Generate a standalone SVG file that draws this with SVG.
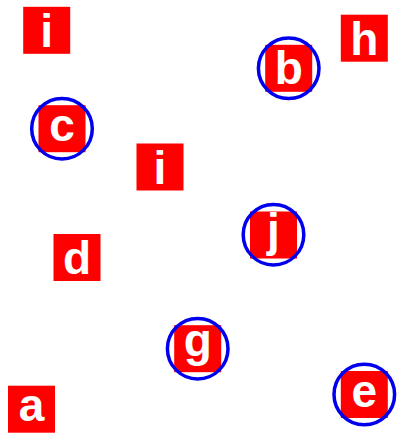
<svg xmlns="http://www.w3.org/2000/svg" width="397" height="433" viewBox="0 0 397 433">
<style>
.box{fill:#ff0000}
.ring{fill:none;stroke:#0000ee;stroke-width:3.5}
.lbl{fill:#ffffff;font-family:"Liberation Sans",Arial,sans-serif;font-weight:bold;font-size:46px;text-anchor:middle}
</style>
<rect width="397" height="433" fill="#ffffff"/>
<g id="connectors"/>
<g id="node-i1"><rect class="box" x="23.2" y="6.8" width="47" height="47"/><text class="lbl" x="46.7" y="46.8">i</text></g>
<g id="node-c"><rect class="box" x="38.5" y="105.2" width="47" height="47"/><circle class="ring" cx="62" cy="128.7" r="30.3"/><text class="lbl" x="62" y="140.8">c</text></g>
<g id="node-i2"><rect class="box" x="136.5" y="143.5" width="47" height="47"/><text class="lbl" x="160" y="183.5">i</text></g>
<g id="node-h"><rect class="box" x="340.8" y="14.7" width="47" height="47"/><text class="lbl" x="364.3" y="54.7">h</text></g>
<g id="node-b"><rect class="box" x="265.2" y="44.8" width="47" height="47"/><circle class="ring" cx="288.7" cy="68.3" r="30.3"/><text class="lbl" x="288.7" y="84.4">b</text></g>
<g id="node-d"><rect class="box" x="53.5" y="234" width="47" height="47"/><text class="lbl" x="77" y="273.6">d</text></g>
<g id="node-a"><rect class="box" x="8" y="385.7" width="47" height="47"/><text class="lbl" x="31.5" y="421.3">a</text></g>
<g id="node-j"><rect class="box" x="250" y="211.5" width="47" height="47"/><circle class="ring" cx="273.5" cy="234.7" r="30.3"/><text class="lbl" x="273.5" y="246.3">j</text></g>
<g id="node-g"><rect class="box" x="174.2" y="325.2" width="47" height="47"/><circle class="ring" cx="197.7" cy="348.7" r="30.3"/><text class="lbl" x="197.7" y="356.3">g</text></g>
<g id="node-e"><rect class="box" x="340.8" y="371" width="47" height="47"/><circle class="ring" cx="364.3" cy="394.5" r="30.3"/><text class="lbl" x="364.3" y="406.6">e</text></g>
</svg>
